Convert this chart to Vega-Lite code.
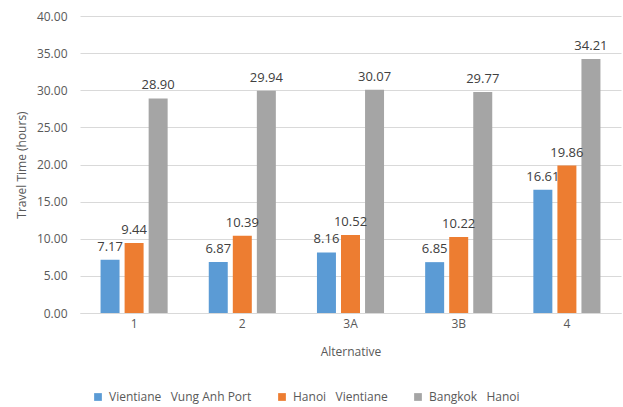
{
  "$schema": "https://vega.github.io/schema/vega-lite/v6.json",
  "width": 541,
  "height": 297,
  "autosize": {"type": "none"},
  "padding": {"left": 80, "top": 16, "right": 2, "bottom": 94},
  "background": "white",
  "config": {
    "view": {"stroke": null},
    "font": "Open Sans",
    "axis": {"labelFont": "Open Sans", "titleFont": "Open Sans", "labelColor": "#595959", "titleColor": "#595959", "labelFontSize": 12, "titleFontSize": 12, "titleFontWeight": "normal"},
    "legend": {"labelFont": "Open Sans", "labelColor": "#595959", "labelFontSize": 12}
  },
  "data": {
    "values": [
      {"alt": "1", "route": "Vientiane\u00a0\u00a0 Vung Anh Port", "hours": 7.17},
      {"alt": "1", "route": "Hanoi\u00a0\u00a0 Vientiane", "hours": 9.44},
      {"alt": "1", "route": "Bangkok\u00a0\u00a0 Hanoi", "hours": 28.90},
      {"alt": "2", "route": "Vientiane\u00a0\u00a0 Vung Anh Port", "hours": 6.87},
      {"alt": "2", "route": "Hanoi\u00a0\u00a0 Vientiane", "hours": 10.39},
      {"alt": "2", "route": "Bangkok\u00a0\u00a0 Hanoi", "hours": 29.94},
      {"alt": "3A", "route": "Vientiane\u00a0\u00a0 Vung Anh Port", "hours": 8.16},
      {"alt": "3A", "route": "Hanoi\u00a0\u00a0 Vientiane", "hours": 10.52},
      {"alt": "3A", "route": "Bangkok\u00a0\u00a0 Hanoi", "hours": 30.07},
      {"alt": "3B", "route": "Vientiane\u00a0\u00a0 Vung Anh Port", "hours": 6.85},
      {"alt": "3B", "route": "Hanoi\u00a0\u00a0 Vientiane", "hours": 10.22},
      {"alt": "3B", "route": "Bangkok\u00a0\u00a0 Hanoi", "hours": 29.77},
      {"alt": "4", "route": "Vientiane\u00a0\u00a0 Vung Anh Port", "hours": 16.61},
      {"alt": "4", "route": "Hanoi\u00a0\u00a0 Vientiane", "hours": 19.86},
      {"alt": "4", "route": "Bangkok\u00a0\u00a0 Hanoi", "hours": 34.21}
    ]
  },
  "encoding": {
    "x": {
      "field": "alt", "type": "nominal", "sort": null,
      "scale": {"paddingInner": 0.38, "paddingOuter": 0.19},
      "axis": {"title": "Alternative", "labelAngle": 0, "ticks": false, "domainColor": "#d9d9d9", "labelPadding": 5, "titlePadding": 17}
    },
    "xOffset": {
      "field": "route", "type": "nominal", "sort": ["Vientiane\u00a0\u00a0 Vung Anh Port", "Hanoi\u00a0\u00a0 Vientiane", "Bangkok\u00a0\u00a0 Hanoi"],
      "scale": {"paddingInner": 0.21, "paddingOuter": 0}
    },
    "y": {
      "field": "hours", "type": "quantitative",
      "scale": {"domain": [0, 40]},
      "axis": {"title": "Travel Time (hours)", "values": [0,5,10,15,20,25,30,35,40], "format": ".2f", "domain": false, "ticks": false, "gridColor": "#d9d9d9", "labelPadding": 13, "titlePadding": 8}
    }
  },
  "layer": [
    {
      "mark": {"type": "bar"},
      "encoding": {
        "color": {
          "field": "route", "type": "nominal",
          "sort": ["Vientiane\u00a0\u00a0 Vung Anh Port", "Hanoi\u00a0\u00a0 Vientiane", "Bangkok\u00a0\u00a0 Hanoi"],
          "scale": {"range": ["#5b9bd5", "#ed7d31", "#a5a5a5"]},
          "legend": {"title": null, "orient": "none", "direction": "horizontal", "legendX": 12, "legendY": 375, "symbolType": "square", "symbolSize": 60, "symbolStrokeWidth": 0, "columnPadding": 24, "labelOffset": 5}
        }
      }
    },
    {
      "mark": {"type": "text", "baseline": "bottom", "dy": -6, "color": "#404040", "fontSize": 13},
      "encoding": {
        "text": {"field": "hours", "type": "quantitative", "format": ".2f"}
      }
    }
  ]
}
